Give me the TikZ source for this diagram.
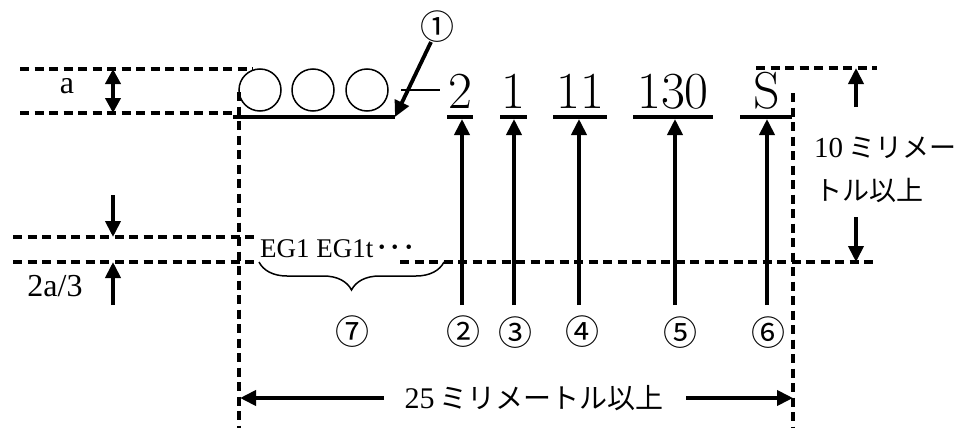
\documentclass[tikz,border=0pt]{standalone}
\usepackage{fontspec}
\newfontfamily\tms{Liberation Serif}
\newfontfamily\cjk{Noto Sans CJK JP}
\usetikzlibrary{arrows.meta,decorations.pathreplacing}
\tikzset{
  dline/.style={line width=3.4pt, dash pattern=on 9pt off 5.5pt},
  arr/.style={line width=3.8pt, -{Triangle[length=16pt,width=15pt]}},
  darr/.style={line width=3.8pt, {Triangle[length=15pt,width=15pt]}-{Triangle[length=15pt,width=15pt]}},
  uline/.style={line width=3.5pt},
  thin/.style={line width=1.5pt},
  big/.style={font=\fontsize{52}{52}\selectfont, inner sep=0pt, anchor=base},
  cnum/.style={font=\cjk\fontsize{34}{34}\selectfont, inner sep=0pt},
  lab/.style={font=\tms\fontsize{32}{32}\selectfont, inner sep=0pt},
  ring/.style={circle, draw, line width=1.5pt, minimum size=42pt, inner sep=0pt}
}
\begin{document}
\begin{tikzpicture}[x=1pt,y=-1pt]
\useasboundingbox (0,0) rectangle (963,428);
% left "a" dimension
\coordinate (ta1) at (20,69);  \coordinate (ta2) at (253,69);
\coordinate (ba1) at (20,113); \coordinate (ba2) at (240,113);
\draw[dline] (ta1) -- (ta2);
\draw[dline] (ba1) -- (ba2);
\coordinate (da1) at (113,69); \coordinate (da2) at (113,113);
\draw[darr] (da1) -- (da2);
\node[lab] (la) at (67,86) {a};
% circles
\node[ring] (c1) at (260,90) {};
\node[ring] (c2) at (313,90) {};
\node[ring] (c3) at (367,90) {};
\coordinate (bl1) at (233,117); \coordinate (bl2) at (395,117);
\draw[uline] (bl1) -- (bl2);
\coordinate (hy1) at (401,90); \coordinate (hy2) at (440,90);
\draw[thin] (hy1) -- (hy2);
\node[cnum] (n1) at (437,27) {①};
\coordinate (p1) at (431,42);
\draw[arr] (p1) -- (bl2);
% big characters
\node[big] (t2) at (460,108) {2};
\node[big] (t3) at (513,108) {1};
\node[big] (t4) at (580,108) {11};
\node[big] (t5) at (673,108) {130};
\node[big] (t6) at (767,108) {S};
\foreach \a/\b/\n in {447/473/2, 500/527/3, 553/607/4, 633/713/5, 740/792/6}{
  \coordinate (u\n a) at (\a,117); \coordinate (u\n b) at (\b,117);
  \draw[uline] (u\n a) -- (u\n b);
}
\foreach \x/\n in {462/2, 514/3, 579/4, 675/5, 767/6}{
  \coordinate (s\n) at (\x,305); \coordinate (e\n) at (\x,119);
  \draw[arr] (s\n) -- (e\n);
}
\node[cnum] (m2) at (463,332) {②};
\node[cnum] (m3) at (515,333) {③};
\node[cnum] (m4) at (582,332) {④};
\node[cnum] (m5) at (680,333) {⑤};
\node[cnum] (m6) at (768,333) {⑥};
\node[cnum] (m7) at (352,332) {⑦};
% vertical dashed borders
\coordinate (lv1) at (239,92); \coordinate (lv2) at (239,428);
\coordinate (rv1) at (793,93); \coordinate (rv2) at (793,428);
\draw[dline] (lv1) -- (lv2);
\draw[dline] (rv1) -- (rv2);
% right 10 mm dimension
\coordinate (tr1) at (756,68); \coordinate (tr2) at (877,68);
\draw[dline] (tr1) -- (tr2);
\coordinate (ua1) at (856,107); \coordinate (ua2) at (856,68);
\draw[arr] (ua1) -- (ua2);
\coordinate (db1) at (856,217); \coordinate (db2) at (856,262);
\draw[arr] (db1) -- (db2);
\node[anchor=west, inner sep=0pt] (r1) at (814,148) {\tms\fontsize{29}{29}\selectfont 10\hspace{5pt}\cjk\fontsize{27}{27}\selectfont ミリメー};
\node[anchor=west, inner sep=0pt] (r2) at (815,190) {\cjk\fontsize{27}{27}\selectfont トル以上};
% lower dashed lines
\coordinate (g1) at (13,262); \coordinate (g2) at (258,262);
\coordinate (g3) at (400,262); \coordinate (g4) at (877,262);
\coordinate (h1) at (13,237); \coordinate (h2) at (258,237);
\draw[dline] (g1) -- (g2);
\draw[dline] (g3) -- (g4);
\draw[dline] (h1) -- (h2);
\coordinate (k1) at (113,195); \coordinate (k2) at (113,237);
\draw[arr] (k1) -- (k2);
\coordinate (k3) at (113,305); \coordinate (k4) at (113,262);
\draw[arr] (k3) -- (k4);
\node[lab] (l23) at (55,286) {2a/3};
\node[anchor=west, inner sep=0pt] (eg) at (260,249) {\tms\fontsize{27}{27}\selectfont EG1 EG1t\hspace{2pt}\cjk ･･･};
\coordinate (br1) at (259,262); \coordinate (br2) at (444,262);
\draw[thin, decorate, decoration={brace, mirror, amplitude=28pt}] (br1) -- (br2);
% bottom 25 mm dimension
\node[inner sep=0pt] (bt) at (534,398) {\tms\fontsize{30}{30}\selectfont 25\hspace{5pt}\cjk\fontsize{28}{28}\selectfont ミリメートル以上};
\coordinate (bl) at (384,398); \coordinate (blt) at (240,398);
\coordinate (br) at (686,398); \coordinate (brt) at (793,398);
\draw[arr] (bl) -- (blt);
\draw[arr] (br) -- (brt);
\end{tikzpicture}
\end{document}
